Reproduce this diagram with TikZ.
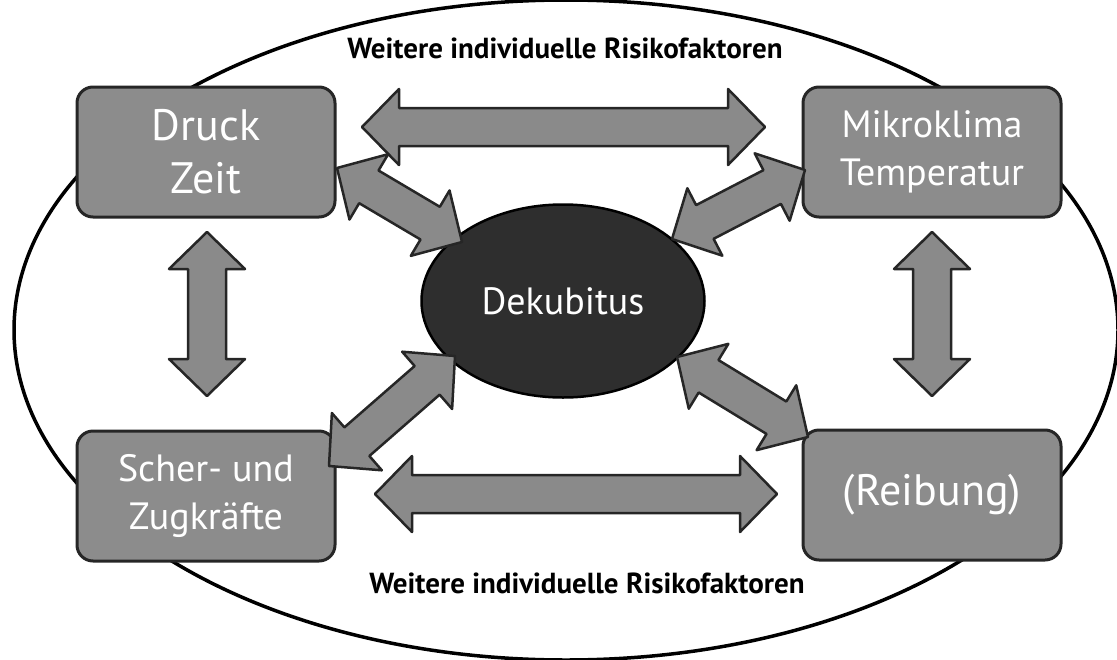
\documentclass[tikz,border=0pt]{standalone}
\usepackage{fontspec}
\setmainfont{PT Sans}
\usetikzlibrary{calc,shapes.geometric}
\definecolor{boxgray}{HTML}{8C8C8C}
\definecolor{arrgray}{HTML}{8A8A8A}
\definecolor{darkfill}{HTML}{2E2E2E}
\newcommand\blockarrow[2]{%
 \draw[arr] (#1)
 -- ($(#1)!37pt!(#2)!38pt!90:(#2)$)
 -- ($(#1)!37pt!(#2)!19pt!90:(#2)$)
 -- ($(#2)!37pt!(#1)!19pt!-90:(#1)$)
 -- ($(#2)!37pt!(#1)!38pt!-90:(#1)$)
 -- (#2)
 -- ($(#2)!37pt!(#1)!38pt!90:(#1)$)
 -- ($(#2)!37pt!(#1)!19pt!90:(#1)$)
 -- ($(#1)!37pt!(#2)!19pt!-90:(#2)$)
 -- ($(#1)!37pt!(#2)!38pt!-90:(#2)$)
 -- cycle;}
\begin{document}
\begin{tikzpicture}[x=1pt,y=-1pt,
  box/.style={draw=black!85, line width=3pt, fill=boxgray, rounded corners=16pt,
    minimum width=258pt, minimum height=130pt, text=white, align=center, inner sep=0pt},
  arr/.style={draw=black!85, line width=2.5pt, line join=round, fill=arrgray},
  risk/.style={font=\fontsize{29}{33}\selectfont\bfseries, inner sep=0pt}]
\useasboundingbox (0,0) rectangle (1117,659);
\draw[line width=3.5pt] (566,330) ellipse [x radius=552pt, y radius=330pt];
% boxes
\node[box, font=\fontsize{44}{53}\selectfont] (druck) at (206,152) {Druck\\Zeit};
\node[box, font=\fontsize{38}{48}\selectfont] (mikro) at (932,152) {Mikroklima\\Temperatur};
\node[box, font=\fontsize{38}{48}\selectfont] (scher) at (206,496) {Scher- und\\Zugkräfte};
\node[box, font=\fontsize{44}{50}\selectfont] (reib) at (932,495) {(Reibung)};
\node[ellipse, draw=black, line width=2.5pt, fill=darkfill, minimum width=283pt,
  minimum height=193pt, text=white, font=\fontsize{38}{44}\selectfont] (dek) at (563,301) {Dekubitus};
% labels
\node[risk] (risktop) at (565,48) {Weitere individuelle Risikofaktoren};
\node[risk] (riskbot) at (587,583) {Weitere individuelle Risikofaktoren};
% arrow end points
\coordinate (t1) at (362,127); \coordinate (t2) at (765,127);
\coordinate (b1) at (375,494); \coordinate (b2) at (777,494);
\coordinate (l1) at (207,232); \coordinate (l2) at (207,396);
\coordinate (r1) at (932,232); \coordinate (r2) at (932,396);
\coordinate (d1a) at (337,168); \coordinate (d1b) at (462,242);
\coordinate (d2a) at (805,170); \coordinate (d2b) at (672,239);
\coordinate (d3a) at (329,466); \coordinate (d3b) at (455,356);
\coordinate (d4a) at (677,357); \coordinate (d4b) at (808,437);
\blockarrow{t1}{t2}
\blockarrow{b1}{b2}
\blockarrow{l1}{l2}
\blockarrow{r1}{r2}
\blockarrow{d1a}{d1b}
\blockarrow{d2a}{d2b}
\blockarrow{d3a}{d3b}
\blockarrow{d4a}{d4b}
\end{tikzpicture}
\end{document}
